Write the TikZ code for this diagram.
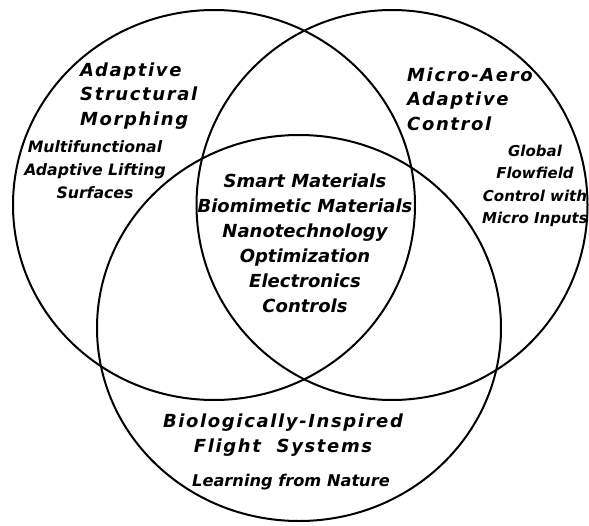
\documentclass[tikz,border=0pt]{standalone}
\usepackage{fontspec}
\setmainfont{DejaVu Sans}
\newfontfamily\vennwide[LetterSpace=9]{DejaVu Sans}
\newfontfamily\vennplain{DejaVu Sans}
\begin{document}
\begin{tikzpicture}[x=1pt,y=-1pt,
  ring/.style={line width=2pt},
  areatitle/.style={font=\vennwide\bfseries\itshape\fontsize{18}{24.5}\selectfont, inner sep=0pt},
  coretext/.style={font=\vennplain\bfseries\itshape\fontsize{18}{25}\selectfont, inner sep=0pt, align=center},
  subtext/.style={font=\vennplain\bfseries\itshape\fontsize{15.7}{23}\selectfont, inner sep=0pt, align=center}]
  \useasboundingbox (0,0) rectangle (589,525);
  % the three overlapping regions
  \draw[ring] (214,205) ellipse [x radius=201, y radius=195];
  \draw[ring] (392,205) ellipse [x radius=195.5, y radius=195];
  \draw[ring] (299,328) ellipse [x radius=202, y radius=193];
  % left region
  \node[areatitle, align=left, anchor=west] (asm) at (80,96)
    {Adaptive\\Structural\\Morphing};
  \node[subtext] (malS) at (95,170)
    {Multifunctional\\Adaptive Lifting\\Surfaces};
  % right region
  \node[areatitle, align=left, anchor=west] (maac) at (407,99)
    {Micro-Aero\\Adaptive\\Control};
  \node[subtext, font=\vennplain\bfseries\itshape\fontsize{15}{22.3}\selectfont] (gfc) at (535,186)
    {Global\\Flowfield\\Control with\\Micro Inputs};
  % shared core
  \node[coretext] (core) at (305,243)
    {Smart Materials\\Biomimetic Materials\\Nanotechnology\\Optimization\\Electronics\\Controls};
  % bottom region
  \node[areatitle, align=center] (bifs) at (283,435)
    {Biologically-Inspired\\Flight\ \ Systems};
  \node[subtext, font=\vennplain\bfseries\itshape\fontsize{16.2}{23}\selectfont] (lfn) at (291,482) {Learning from Nature};
\end{tikzpicture}
\end{document}
